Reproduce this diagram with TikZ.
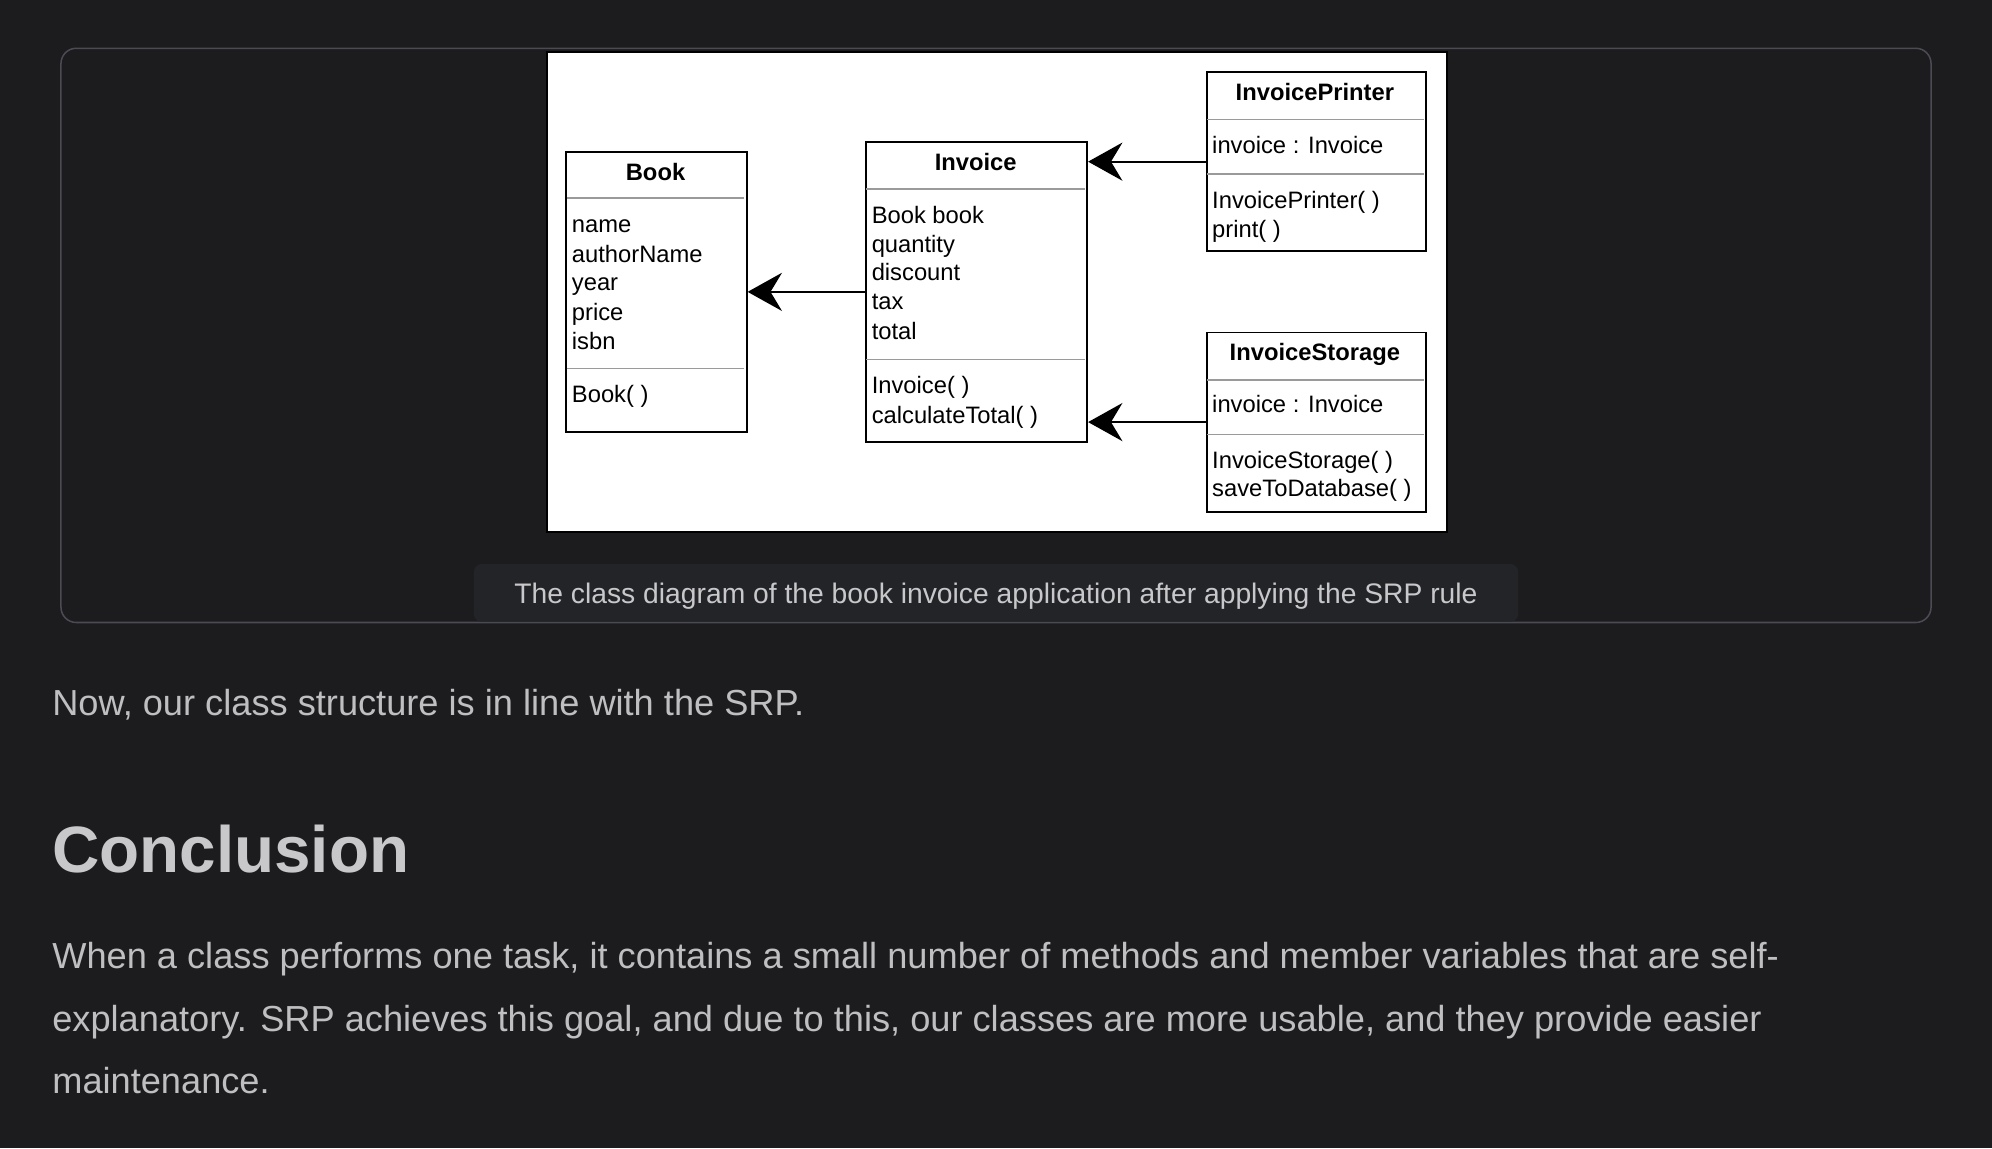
\documentclass[tikz,border=0pt]{standalone}
\usepackage{fontspec}
\setmainfont{Liberation Sans}
\usetikzlibrary{arrows.meta,calc}
\definecolor{pagebg}{HTML}{1C1C1E}
\definecolor{framegray}{HTML}{4A4B53}
\definecolor{capbg}{HTML}{232428}
\definecolor{captext}{HTML}{C8C8CA}
\definecolor{bodytext}{HTML}{BFBFC1}
\definecolor{sepgray}{HTML}{9A9A9A}
\tikzset{
  classbox/.style={draw=black, line width=1.5pt, fill=white, inner sep=0pt, anchor=north west},
  sepline/.style={draw=sepgray, line width=1.3pt},
  ctitle/.style={anchor=base, inner sep=0pt, font=\fontsize{18.7}{22.8}\selectfont\bfseries},
  ctext/.style={anchor=base west, inner sep=0pt, font=\fontsize{18.7}{22.8}\selectfont},
  assoc/.style={draw=black, line width=1.5pt, -{Stealth[length=27pt,width=30pt,inset=9pt]}},
  bodyline/.style={anchor=base west, inner sep=0pt, text=bodytext, font=\fontsize{28.5}{34}\selectfont},
}
\begin{document}
\begin{tikzpicture}[x=1pt,y=-1pt]
\useasboundingbox (0,0) rectangle (1568,904);
\fill[pagebg] (0,0) rectangle (1568,904);
% figure frame
\draw[framegray, line width=1.2pt, rounded corners=12pt, fill=pagebg] (48,38) rectangle (1520,490);
% white diagram image
\node[draw=black, line width=1.5pt, fill=white, minimum width=708pt, minimum height=378pt, anchor=north west, inner sep=0pt] (img) at (430,40) {};
% caption
\fill[capbg, rounded corners=6pt] (373,444) rectangle (1195,489.4);
\node[anchor=base, inner sep=0pt, text=captext, font=\fontsize{22.25}{26}\selectfont] (cap) at (784,475) {The class diagram of the book invoice application after applying the SRP rule};

% ---- Book
\node[classbox, minimum width=142pt, minimum height=220pt] (book) at (445,119) {};
\draw[sepline] (446,156) -- (586,156);
\draw[sepline] (446,290) -- (586,290);
\node[ctitle] (bookT) at (516,142) {Book};
\node[ctext] (bookA1) at (450,183) {name};
\node[ctext] (bookA2) at (450,207) {authorName};
\node[ctext] (bookA3) at (450,229) {year};
\node[ctext] (bookA4) at (450,252) {price};
\node[ctext] (bookA5) at (450,275) {isbn};
\node[ctext] (bookM1) at (450,317) {Book( )};

% ---- Invoice
\node[classbox, minimum width=174pt, minimum height=236pt] (inv) at (681,111) {};
\draw[sepline] (682,149) -- (854,149);
\draw[sepline] (682,283) -- (854,283);
\node[ctitle] (invT) at (768,134) {Invoice};
\node[ctext] (invA1) at (686,176) {Book book};
\node[ctext] (invA2) at (686,199) {quantity};
\node[ctext] (invA3) at (686,221) {discount};
\node[ctext] (invA4) at (686,244) {tax};
\node[ctext] (invA5) at (686,267) {total};
\node[ctext] (invM1) at (686,310) {Invoice( )};
\node[ctext] (invM2) at (686,333) {calculateTotal( )};

% ---- InvoicePrinter
\node[classbox, minimum width=173pt, minimum height=141pt] (prn) at (949,56) {};
\draw[sepline] (950,94) -- (1121,94);
\draw[sepline] (950,137) -- (1121,137);
\node[ctitle] (prnT) at (1035,79) {InvoicePrinter};
\node[ctext] (prnA1) at (954,121) {invoice : Invoice};
\node[ctext] (prnM1) at (954,164) {InvoicePrinter( )};
\node[ctext] (prnM2) at (954,187) {print( )};

% ---- InvoiceStorage
\node[classbox, minimum width=173pt, minimum height=141pt] (sto) at (949,261) {};
\draw[sepline] (950,299) -- (1121,299);
\draw[sepline] (950,342) -- (1121,342);
\node[ctitle] (stoT) at (1035,284) {InvoiceStorage};
\node[ctext] (stoA1) at (954,325) {invoice : Invoice};
\node[ctext] (stoM1) at (954,369) {InvoiceStorage( )};
\node[ctext] (stoM2) at (954,391) {saveToDatabase( )};

% ---- connectors
\draw[assoc] (inv.west) -- (book.east);
\draw[assoc] (prn.west) -- (prn.west -| inv.east);
\draw[assoc] (sto.west) -- (sto.west -| inv.east);

% ---- page text
\node[bodyline] (now) at (41,563) {Now, our class structure is in line with the SRP.};
\node[anchor=base west, inner sep=0pt, text=captext, font=\fontsize{51.6}{60}\selectfont\bfseries] (concl) at (41,687) {Conclusion};
\node[bodyline] (p1) at (41,762) {When a class performs one task, it contains a small number of methods and member variables that are self-};
\node[bodyline] (p2) at (41,812) {explanatory. SRP achieves this goal, and due to this, our classes are more usable, and they provide easier};
\node[bodyline] (p3) at (41,861) {maintenance.};
\end{tikzpicture}
\end{document}
